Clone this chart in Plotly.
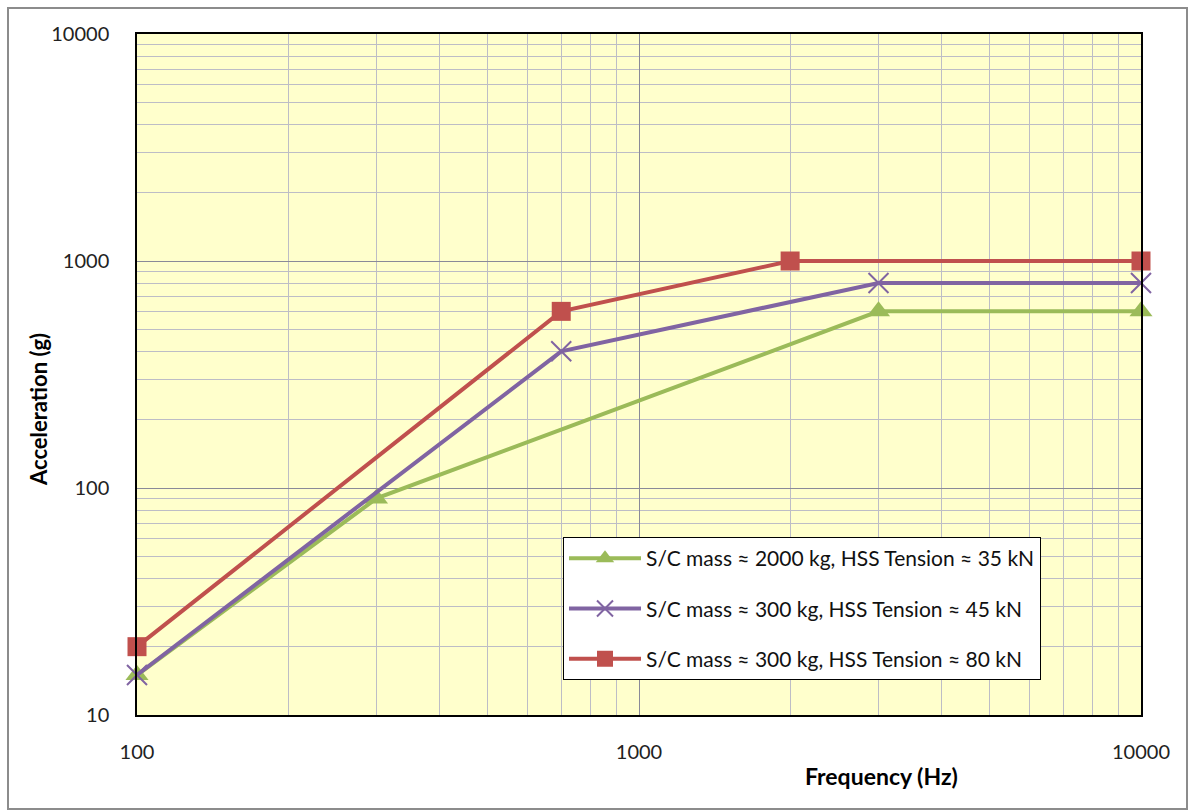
import plotly.graph_objects as go

# Frequency (Hz) / acceleration (g) breakpoints for each spacecraft case
green_freq = [100, 300, 3000, 10000]
green_acc = [15, 90, 600, 600]
purple_freq = [100, 700, 3000, 10000]
purple_acc = [15, 400, 800, 800]
red_freq = [100, 700, 2000, 10000]
red_acc = [20, 600, 1000, 1000]

green_name = "S/C mass \u2248 2000 kg, HSS Tension \u2248 35 kN"
purple_name = "S/C mass \u2248 300 kg, HSS Tension \u2248 45 kN"
red_name = "S/C mass \u2248 300 kg, HSS Tension \u2248 80 kN"

x_ticks = [100, 1000, 10000]
y_ticks = [10, 100, 1000, 10000]

FONT = "Lato"
W, H = 1190, 811
L, R, T, B = 137, 49, 34, 96

fig = go.Figure()
fig.add_trace(go.Scatter(
    x=green_freq, y=green_acc, name=green_name, mode="lines+markers",
    line=dict(color="#9BBB59", width=4),
    marker=dict(symbol="triangle-up", size=20, color="#9BBB59"),
    legendgroup="g1", cliponaxis=False))
fig.add_trace(go.Scatter(
    x=purple_freq, y=purple_acc, name=purple_name, mode="lines+markers",
    line=dict(color="#8064A2", width=4),
    marker=dict(symbol="x-thin", size=20, color="#8064A2",
                line=dict(color="#8064A2", width=2)),
    legendgroup="g2", cliponaxis=False))
fig.add_trace(go.Scatter(
    x=red_freq, y=red_acc, name=red_name, mode="lines+markers",
    line=dict(color="#C0504D", width=4),
    marker=dict(symbol="square", size=19, color="#C0504D"),
    legendgroup="g3", cliponaxis=False))

minor_x = [m * d for d in (100, 1000) for m in range(2, 10)]
minor_y = [m * d for d in (10, 100, 1000) for m in range(2, 10)]

GRID_MAJOR = "#8A8A98"
GRID_MINOR = "#BDBDC6"

fig.update_xaxes(
    type="log", range=[2, 4], tickvals=x_ticks, ticktext=[str(v) for v in x_ticks],
    showgrid=True, gridcolor=GRID_MAJOR, gridwidth=1,
    minor=dict(tickvals=minor_x, showgrid=True, gridcolor=GRID_MINOR, gridwidth=1, ticks=""),
    showline=True, linecolor="black", linewidth=1.5, mirror=True,
    ticks="", ticklabelstandoff=18,
    tickfont=dict(family=FONT, size=20, color="#222222"), zeroline=False)
fig.update_yaxes(
    type="log", range=[1, 4], tickvals=y_ticks, ticktext=[str(v) for v in y_ticks],
    showgrid=True, gridcolor=GRID_MAJOR, gridwidth=1,
    minor=dict(tickvals=minor_y, showgrid=True, gridcolor=GRID_MINOR, gridwidth=1, ticks=""),
    showline=True, linecolor="black", linewidth=1.5, mirror=True,
    ticks="", ticklabelstandoff=22,
    tickfont=dict(family=FONT, size=20, color="#222222"), zeroline=False)

def px_x(p):
    return (p - L) / (W - L - R)

def px_y(p):
    return (H - B - p) / (H - T - B)

fig.update_layout(
    width=W, height=H,
    margin=dict(l=L, r=R, t=T, b=B),
    paper_bgcolor="white", plot_bgcolor="#FFFFCC",
    font=dict(family=FONT, color="black"),
    showlegend=True,
    legend=dict(
        x=px_x(563), y=px_y(537), xanchor="left", yanchor="top",
        bgcolor="white", bordercolor="black", borderwidth=1,
        font=dict(family=FONT, size=21, color="#111111"),
        tracegroupgap=20, itemwidth=72,
    ),
    annotations=[
        dict(text="<b>Frequency (Hz)</b>", xref="paper", yref="paper",
             x=px_x(881), y=px_y(776), xanchor="center", yanchor="middle",
             showarrow=False, font=dict(family=FONT, size=23, color="black")),
        dict(text="<b>Acceleration (g)</b>", xref="paper", yref="paper",
             x=px_x(38), y=px_y(410), xanchor="center", yanchor="middle",
             textangle=-90, showarrow=False,
             font=dict(family=FONT, size=22, color="black")),
    ],
    shapes=[
        dict(type="rect", xref="paper", yref="paper",
             x0=px_x(8), x1=px_x(1187), y0=px_y(809), y1=px_y(8),
             line=dict(color="#8C8C8C", width=2), fillcolor="rgba(0,0,0,0)",
             layer="below"),
    ],
)

fig.write_html("out.html")
